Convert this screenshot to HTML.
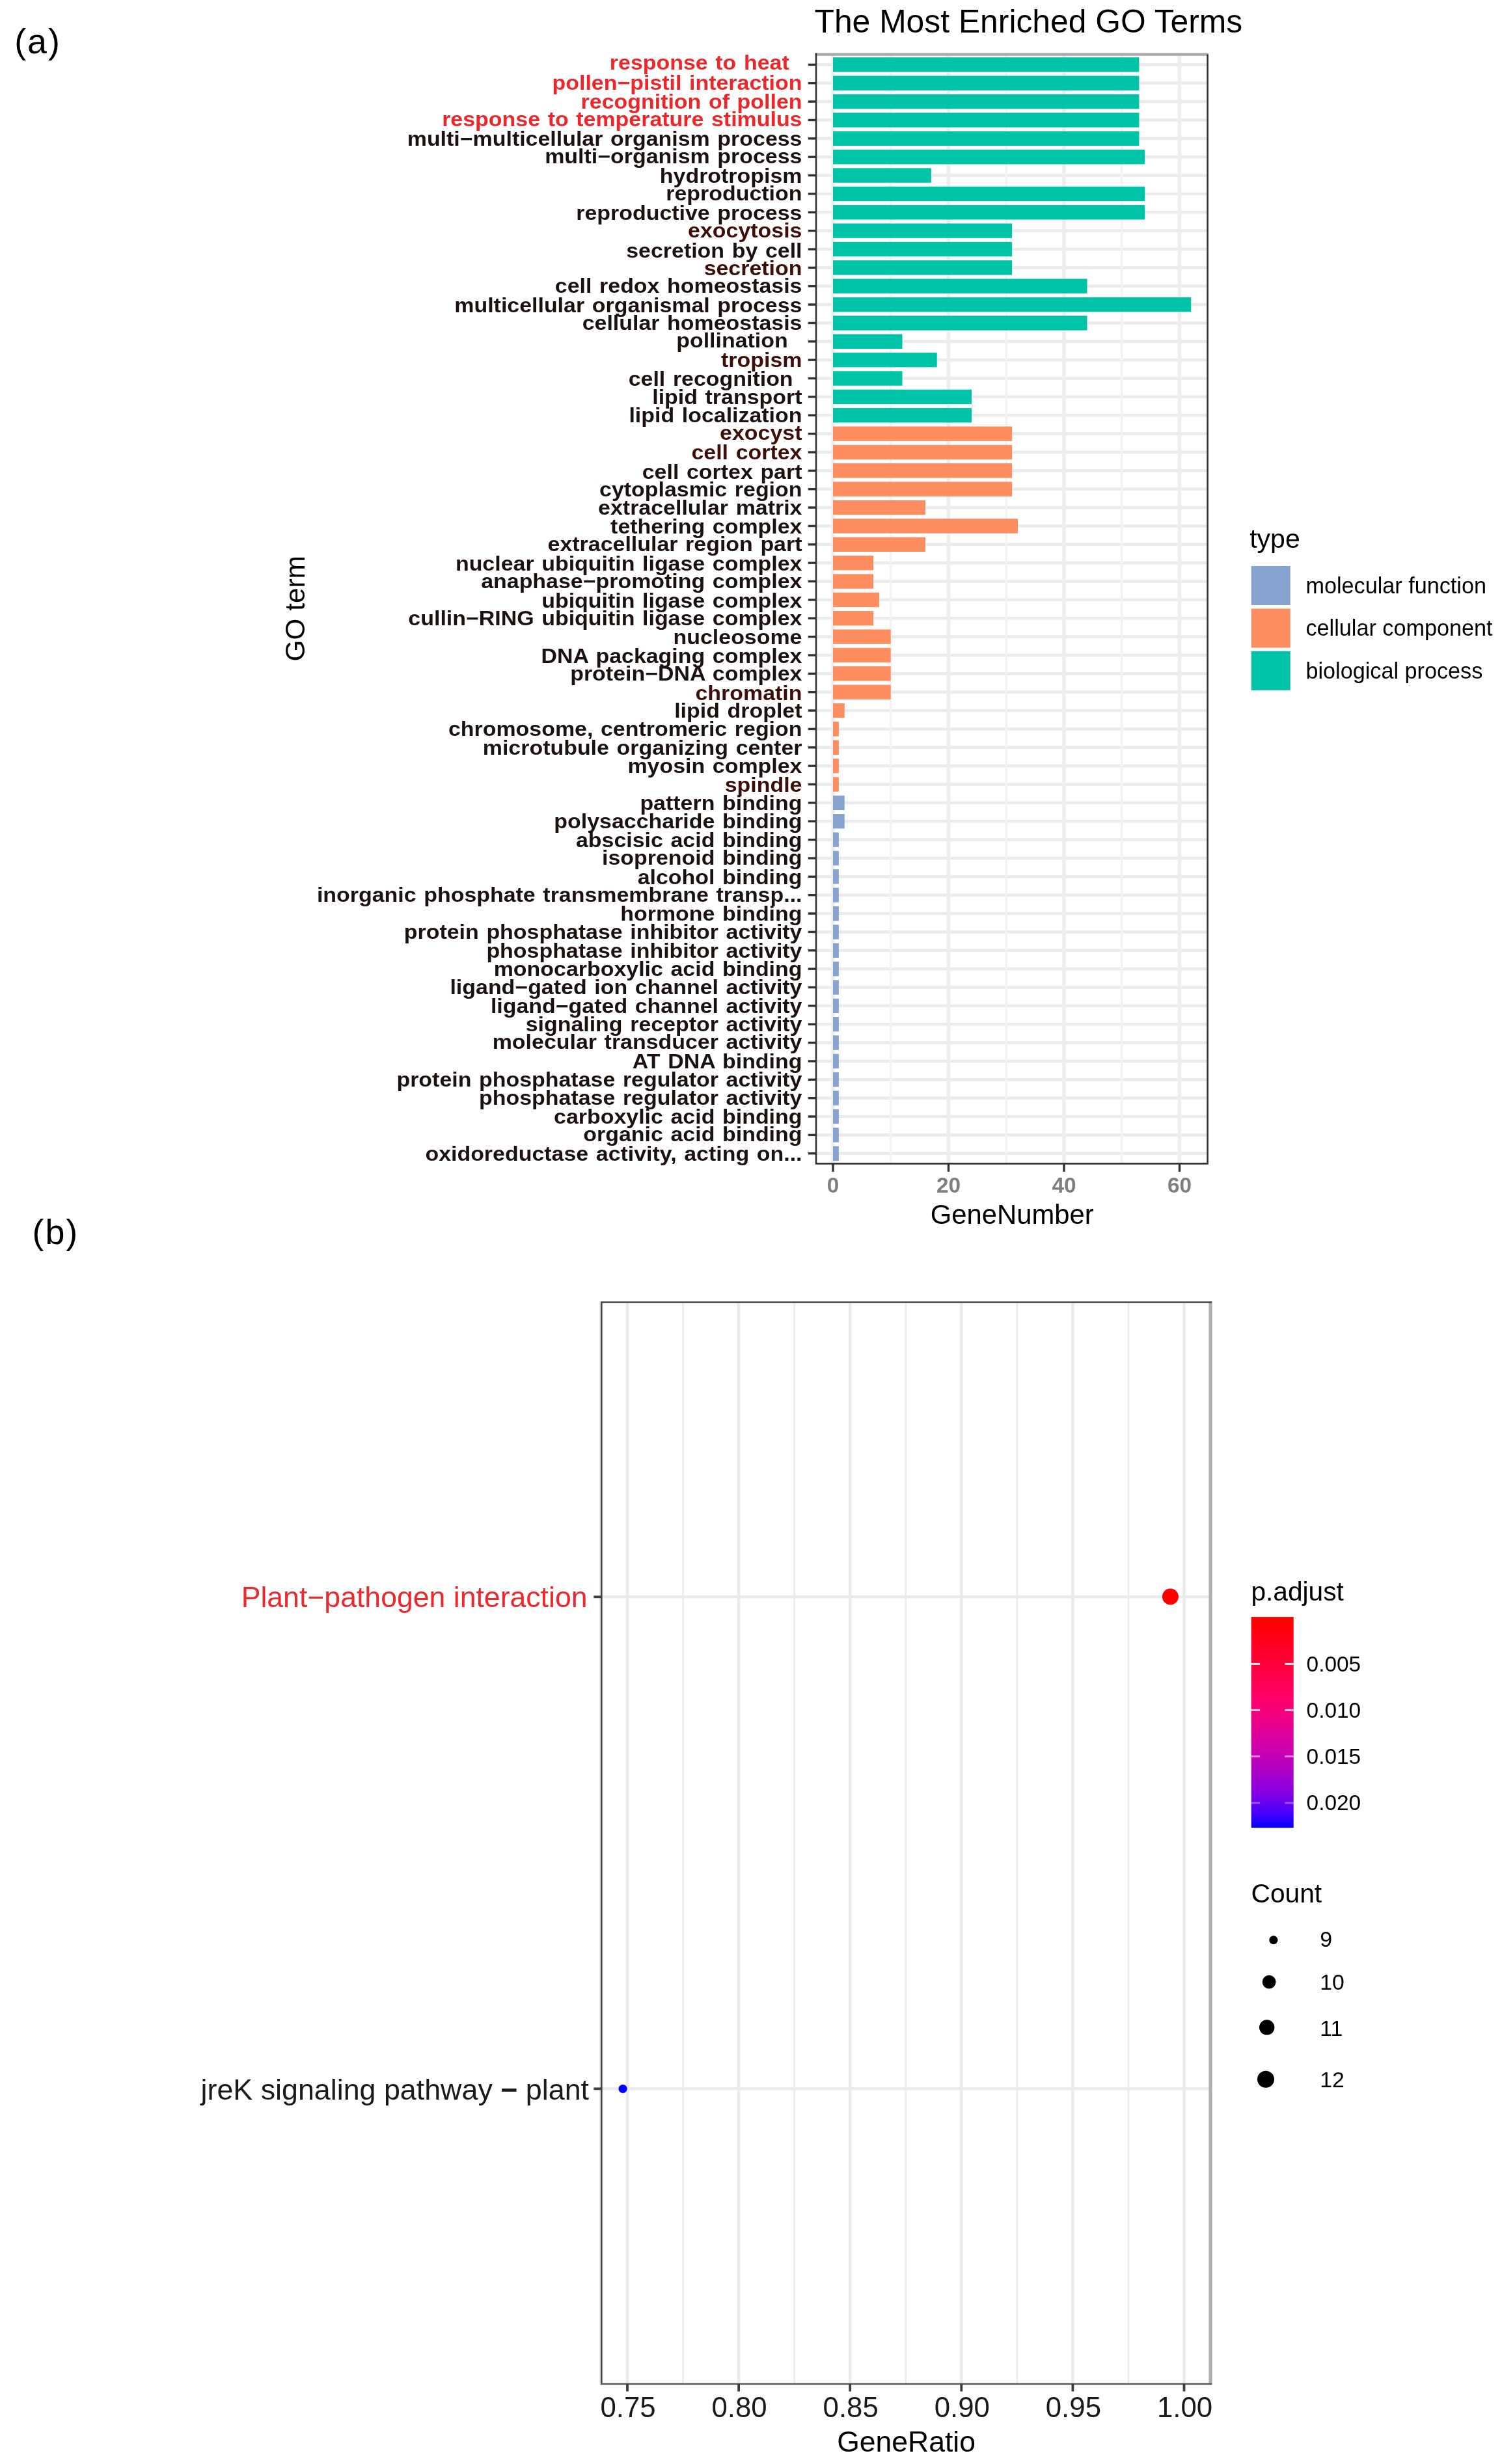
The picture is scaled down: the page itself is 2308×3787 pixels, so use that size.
<!DOCTYPE html>
<html lang="en"><head><meta charset="utf-8"><title>GO enrichment figure</title>
<style>html,body{margin:0;padding:0;background:#fff}svg{display:block;filter:blur(0.7px)}text{white-space:pre}</style></head>
<body>
<svg width="2308" height="3787" viewBox="0 0 2308 3787" font-family='"Liberation Sans", Arial, Helvetica, sans-serif'>
<rect width="2308" height="3787" fill="#ffffff"/>
<g stroke="#ebebeb" fill="none">
<line x1="1254.0" x2="1855.6" y1="99.40" y2="99.40" stroke-width="4.6"/>
<line x1="1254.0" x2="1855.6" y1="127.76" y2="127.76" stroke-width="4.6"/>
<line x1="1254.0" x2="1855.6" y1="156.12" y2="156.12" stroke-width="4.6"/>
<line x1="1254.0" x2="1855.6" y1="184.49" y2="184.49" stroke-width="4.6"/>
<line x1="1254.0" x2="1855.6" y1="212.85" y2="212.85" stroke-width="4.6"/>
<line x1="1254.0" x2="1855.6" y1="241.21" y2="241.21" stroke-width="4.6"/>
<line x1="1254.0" x2="1855.6" y1="269.57" y2="269.57" stroke-width="4.6"/>
<line x1="1254.0" x2="1855.6" y1="297.93" y2="297.93" stroke-width="4.6"/>
<line x1="1254.0" x2="1855.6" y1="326.30" y2="326.30" stroke-width="4.6"/>
<line x1="1254.0" x2="1855.6" y1="354.66" y2="354.66" stroke-width="4.6"/>
<line x1="1254.0" x2="1855.6" y1="383.02" y2="383.02" stroke-width="4.6"/>
<line x1="1254.0" x2="1855.6" y1="411.38" y2="411.38" stroke-width="4.6"/>
<line x1="1254.0" x2="1855.6" y1="439.74" y2="439.74" stroke-width="4.6"/>
<line x1="1254.0" x2="1855.6" y1="468.11" y2="468.11" stroke-width="4.6"/>
<line x1="1254.0" x2="1855.6" y1="496.47" y2="496.47" stroke-width="4.6"/>
<line x1="1254.0" x2="1855.6" y1="524.83" y2="524.83" stroke-width="4.6"/>
<line x1="1254.0" x2="1855.6" y1="553.19" y2="553.19" stroke-width="4.6"/>
<line x1="1254.0" x2="1855.6" y1="581.55" y2="581.55" stroke-width="4.6"/>
<line x1="1254.0" x2="1855.6" y1="609.92" y2="609.92" stroke-width="4.6"/>
<line x1="1254.0" x2="1855.6" y1="638.28" y2="638.28" stroke-width="4.6"/>
<line x1="1254.0" x2="1855.6" y1="666.64" y2="666.64" stroke-width="4.6"/>
<line x1="1254.0" x2="1855.6" y1="695.00" y2="695.00" stroke-width="4.6"/>
<line x1="1254.0" x2="1855.6" y1="723.36" y2="723.36" stroke-width="4.6"/>
<line x1="1254.0" x2="1855.6" y1="751.73" y2="751.73" stroke-width="4.6"/>
<line x1="1254.0" x2="1855.6" y1="780.09" y2="780.09" stroke-width="4.6"/>
<line x1="1254.0" x2="1855.6" y1="808.45" y2="808.45" stroke-width="4.6"/>
<line x1="1254.0" x2="1855.6" y1="836.81" y2="836.81" stroke-width="4.6"/>
<line x1="1254.0" x2="1855.6" y1="865.17" y2="865.17" stroke-width="4.6"/>
<line x1="1254.0" x2="1855.6" y1="893.54" y2="893.54" stroke-width="4.6"/>
<line x1="1254.0" x2="1855.6" y1="921.90" y2="921.90" stroke-width="4.6"/>
<line x1="1254.0" x2="1855.6" y1="950.26" y2="950.26" stroke-width="4.6"/>
<line x1="1254.0" x2="1855.6" y1="978.62" y2="978.62" stroke-width="4.6"/>
<line x1="1254.0" x2="1855.6" y1="1006.98" y2="1006.98" stroke-width="4.6"/>
<line x1="1254.0" x2="1855.6" y1="1035.35" y2="1035.35" stroke-width="4.6"/>
<line x1="1254.0" x2="1855.6" y1="1063.71" y2="1063.71" stroke-width="4.6"/>
<line x1="1254.0" x2="1855.6" y1="1092.07" y2="1092.07" stroke-width="4.6"/>
<line x1="1254.0" x2="1855.6" y1="1120.43" y2="1120.43" stroke-width="4.6"/>
<line x1="1254.0" x2="1855.6" y1="1148.79" y2="1148.79" stroke-width="4.6"/>
<line x1="1254.0" x2="1855.6" y1="1177.16" y2="1177.16" stroke-width="4.6"/>
<line x1="1254.0" x2="1855.6" y1="1205.52" y2="1205.52" stroke-width="4.6"/>
<line x1="1254.0" x2="1855.6" y1="1233.88" y2="1233.88" stroke-width="4.6"/>
<line x1="1254.0" x2="1855.6" y1="1262.24" y2="1262.24" stroke-width="4.6"/>
<line x1="1254.0" x2="1855.6" y1="1290.60" y2="1290.60" stroke-width="4.6"/>
<line x1="1254.0" x2="1855.6" y1="1318.97" y2="1318.97" stroke-width="4.6"/>
<line x1="1254.0" x2="1855.6" y1="1347.33" y2="1347.33" stroke-width="4.6"/>
<line x1="1254.0" x2="1855.6" y1="1375.69" y2="1375.69" stroke-width="4.6"/>
<line x1="1254.0" x2="1855.6" y1="1404.05" y2="1404.05" stroke-width="4.6"/>
<line x1="1254.0" x2="1855.6" y1="1432.41" y2="1432.41" stroke-width="4.6"/>
<line x1="1254.0" x2="1855.6" y1="1460.78" y2="1460.78" stroke-width="4.6"/>
<line x1="1254.0" x2="1855.6" y1="1489.14" y2="1489.14" stroke-width="4.6"/>
<line x1="1254.0" x2="1855.6" y1="1517.50" y2="1517.50" stroke-width="4.6"/>
<line x1="1254.0" x2="1855.6" y1="1545.86" y2="1545.86" stroke-width="4.6"/>
<line x1="1254.0" x2="1855.6" y1="1574.22" y2="1574.22" stroke-width="4.6"/>
<line x1="1254.0" x2="1855.6" y1="1602.59" y2="1602.59" stroke-width="4.6"/>
<line x1="1254.0" x2="1855.6" y1="1630.95" y2="1630.95" stroke-width="4.6"/>
<line x1="1254.0" x2="1855.6" y1="1659.31" y2="1659.31" stroke-width="4.6"/>
<line x1="1254.0" x2="1855.6" y1="1687.67" y2="1687.67" stroke-width="4.6"/>
<line x1="1254.0" x2="1855.6" y1="1716.03" y2="1716.03" stroke-width="4.6"/>
<line x1="1254.0" x2="1855.6" y1="1744.40" y2="1744.40" stroke-width="4.6"/>
<line x1="1254.0" x2="1855.6" y1="1772.76" y2="1772.76" stroke-width="4.6"/>
<line x1="1368.75" x2="1368.75" y1="82.6" y2="1788.4" stroke-width="3.4" stroke="#f3f3f3"/>
<line x1="1546.25" x2="1546.25" y1="82.6" y2="1788.4" stroke-width="3.4" stroke="#f3f3f3"/>
<line x1="1723.75" x2="1723.75" y1="82.6" y2="1788.4" stroke-width="3.4" stroke="#f3f3f3"/>
<line x1="1280.00" x2="1280.00" y1="82.6" y2="1788.4" stroke-width="5.6" stroke="#eeeeee"/>
<line x1="1457.50" x2="1457.50" y1="82.6" y2="1788.4" stroke-width="5.6" stroke="#eeeeee"/>
<line x1="1635.00" x2="1635.00" y1="82.6" y2="1788.4" stroke-width="5.6" stroke="#eeeeee"/>
<line x1="1812.50" x2="1812.50" y1="82.6" y2="1788.4" stroke-width="5.6" stroke="#eeeeee"/>
</g>
<rect x="1280.00" y="88.20" width="470.38" height="22.4" fill="#00c4a7"/>
<rect x="1280.00" y="116.56" width="470.38" height="22.4" fill="#00c4a7"/>
<rect x="1280.00" y="144.92" width="470.38" height="22.4" fill="#00c4a7"/>
<rect x="1280.00" y="173.29" width="470.38" height="22.4" fill="#00c4a7"/>
<rect x="1280.00" y="201.65" width="470.38" height="22.4" fill="#00c4a7"/>
<rect x="1280.00" y="230.01" width="479.25" height="22.4" fill="#00c4a7"/>
<rect x="1280.00" y="258.37" width="150.88" height="22.4" fill="#00c4a7"/>
<rect x="1280.00" y="286.73" width="479.25" height="22.4" fill="#00c4a7"/>
<rect x="1280.00" y="315.10" width="479.25" height="22.4" fill="#00c4a7"/>
<rect x="1280.00" y="343.46" width="275.12" height="22.4" fill="#00c4a7"/>
<rect x="1280.00" y="371.82" width="275.12" height="22.4" fill="#00c4a7"/>
<rect x="1280.00" y="400.18" width="275.12" height="22.4" fill="#00c4a7"/>
<rect x="1280.00" y="428.54" width="390.50" height="22.4" fill="#00c4a7"/>
<rect x="1280.00" y="456.91" width="550.25" height="22.4" fill="#00c4a7"/>
<rect x="1280.00" y="485.27" width="390.50" height="22.4" fill="#00c4a7"/>
<rect x="1280.00" y="513.63" width="106.50" height="22.4" fill="#00c4a7"/>
<rect x="1280.00" y="541.99" width="159.75" height="22.4" fill="#00c4a7"/>
<rect x="1280.00" y="570.35" width="106.50" height="22.4" fill="#00c4a7"/>
<rect x="1280.00" y="598.72" width="213.00" height="22.4" fill="#00c4a7"/>
<rect x="1280.00" y="627.08" width="213.00" height="22.4" fill="#00c4a7"/>
<rect x="1280.00" y="655.44" width="275.12" height="22.4" fill="#fe8d60"/>
<rect x="1280.00" y="683.80" width="275.12" height="22.4" fill="#fe8d60"/>
<rect x="1280.00" y="712.16" width="275.12" height="22.4" fill="#fe8d60"/>
<rect x="1280.00" y="740.53" width="275.12" height="22.4" fill="#fe8d60"/>
<rect x="1280.00" y="768.89" width="142.00" height="22.4" fill="#fe8d60"/>
<rect x="1280.00" y="797.25" width="284.00" height="22.4" fill="#fe8d60"/>
<rect x="1280.00" y="825.61" width="142.00" height="22.4" fill="#fe8d60"/>
<rect x="1280.00" y="853.97" width="62.12" height="22.4" fill="#fe8d60"/>
<rect x="1280.00" y="882.34" width="62.12" height="22.4" fill="#fe8d60"/>
<rect x="1280.00" y="910.70" width="71.00" height="22.4" fill="#fe8d60"/>
<rect x="1280.00" y="939.06" width="62.12" height="22.4" fill="#fe8d60"/>
<rect x="1280.00" y="967.42" width="88.75" height="22.4" fill="#fe8d60"/>
<rect x="1280.00" y="995.78" width="88.75" height="22.4" fill="#fe8d60"/>
<rect x="1280.00" y="1024.15" width="88.75" height="22.4" fill="#fe8d60"/>
<rect x="1280.00" y="1052.51" width="88.75" height="22.4" fill="#fe8d60"/>
<rect x="1280.00" y="1080.87" width="17.75" height="22.4" fill="#fe8d60"/>
<rect x="1280.00" y="1109.23" width="8.88" height="22.4" fill="#fe8d60"/>
<rect x="1280.00" y="1137.59" width="8.88" height="22.4" fill="#fe8d60"/>
<rect x="1280.00" y="1165.96" width="8.88" height="22.4" fill="#fe8d60"/>
<rect x="1280.00" y="1194.32" width="8.88" height="22.4" fill="#fe8d60"/>
<rect x="1280.00" y="1222.68" width="17.75" height="22.4" fill="#87a3d0"/>
<rect x="1280.00" y="1251.04" width="17.75" height="22.4" fill="#87a3d0"/>
<rect x="1280.00" y="1279.40" width="8.88" height="22.4" fill="#87a3d0"/>
<rect x="1280.00" y="1307.77" width="8.88" height="22.4" fill="#87a3d0"/>
<rect x="1280.00" y="1336.13" width="8.88" height="22.4" fill="#87a3d0"/>
<rect x="1280.00" y="1364.49" width="8.88" height="22.4" fill="#87a3d0"/>
<rect x="1280.00" y="1392.85" width="8.88" height="22.4" fill="#87a3d0"/>
<rect x="1280.00" y="1421.21" width="8.88" height="22.4" fill="#87a3d0"/>
<rect x="1280.00" y="1449.58" width="8.88" height="22.4" fill="#87a3d0"/>
<rect x="1280.00" y="1477.94" width="8.88" height="22.4" fill="#87a3d0"/>
<rect x="1280.00" y="1506.30" width="8.88" height="22.4" fill="#87a3d0"/>
<rect x="1280.00" y="1534.66" width="8.88" height="22.4" fill="#87a3d0"/>
<rect x="1280.00" y="1563.02" width="8.88" height="22.4" fill="#87a3d0"/>
<rect x="1280.00" y="1591.39" width="8.88" height="22.4" fill="#87a3d0"/>
<rect x="1280.00" y="1619.75" width="8.88" height="22.4" fill="#87a3d0"/>
<rect x="1280.00" y="1648.11" width="8.88" height="22.4" fill="#87a3d0"/>
<rect x="1280.00" y="1676.47" width="8.88" height="22.4" fill="#87a3d0"/>
<rect x="1280.00" y="1704.83" width="8.88" height="22.4" fill="#87a3d0"/>
<rect x="1280.00" y="1733.20" width="8.88" height="22.4" fill="#87a3d0"/>
<rect x="1280.00" y="1761.56" width="8.88" height="22.4" fill="#87a3d0"/>
<line x1="1252.7" x2="1856.8" y1="83.6" y2="83.6" stroke="#a9a9a9" stroke-width="4.2"/>
<path d="M1254.0 81.6V1788.4H1855.6V83.6" fill="none" stroke="#333333" stroke-width="2.6" stroke-linejoin="miter"/>
<g stroke="#333333" stroke-width="3.4">
<line x1="1241.8" x2="1254.0" y1="99.40" y2="99.40"/>
<line x1="1241.8" x2="1254.0" y1="127.76" y2="127.76"/>
<line x1="1241.8" x2="1254.0" y1="156.12" y2="156.12"/>
<line x1="1241.8" x2="1254.0" y1="184.49" y2="184.49"/>
<line x1="1241.8" x2="1254.0" y1="212.85" y2="212.85"/>
<line x1="1241.8" x2="1254.0" y1="241.21" y2="241.21"/>
<line x1="1241.8" x2="1254.0" y1="269.57" y2="269.57"/>
<line x1="1241.8" x2="1254.0" y1="297.93" y2="297.93"/>
<line x1="1241.8" x2="1254.0" y1="326.30" y2="326.30"/>
<line x1="1241.8" x2="1254.0" y1="354.66" y2="354.66"/>
<line x1="1241.8" x2="1254.0" y1="383.02" y2="383.02"/>
<line x1="1241.8" x2="1254.0" y1="411.38" y2="411.38"/>
<line x1="1241.8" x2="1254.0" y1="439.74" y2="439.74"/>
<line x1="1241.8" x2="1254.0" y1="468.11" y2="468.11"/>
<line x1="1241.8" x2="1254.0" y1="496.47" y2="496.47"/>
<line x1="1241.8" x2="1254.0" y1="524.83" y2="524.83"/>
<line x1="1241.8" x2="1254.0" y1="553.19" y2="553.19"/>
<line x1="1241.8" x2="1254.0" y1="581.55" y2="581.55"/>
<line x1="1241.8" x2="1254.0" y1="609.92" y2="609.92"/>
<line x1="1241.8" x2="1254.0" y1="638.28" y2="638.28"/>
<line x1="1241.8" x2="1254.0" y1="666.64" y2="666.64"/>
<line x1="1241.8" x2="1254.0" y1="695.00" y2="695.00"/>
<line x1="1241.8" x2="1254.0" y1="723.36" y2="723.36"/>
<line x1="1241.8" x2="1254.0" y1="751.73" y2="751.73"/>
<line x1="1241.8" x2="1254.0" y1="780.09" y2="780.09"/>
<line x1="1241.8" x2="1254.0" y1="808.45" y2="808.45"/>
<line x1="1241.8" x2="1254.0" y1="836.81" y2="836.81"/>
<line x1="1241.8" x2="1254.0" y1="865.17" y2="865.17"/>
<line x1="1241.8" x2="1254.0" y1="893.54" y2="893.54"/>
<line x1="1241.8" x2="1254.0" y1="921.90" y2="921.90"/>
<line x1="1241.8" x2="1254.0" y1="950.26" y2="950.26"/>
<line x1="1241.8" x2="1254.0" y1="978.62" y2="978.62"/>
<line x1="1241.8" x2="1254.0" y1="1006.98" y2="1006.98"/>
<line x1="1241.8" x2="1254.0" y1="1035.35" y2="1035.35"/>
<line x1="1241.8" x2="1254.0" y1="1063.71" y2="1063.71"/>
<line x1="1241.8" x2="1254.0" y1="1092.07" y2="1092.07"/>
<line x1="1241.8" x2="1254.0" y1="1120.43" y2="1120.43"/>
<line x1="1241.8" x2="1254.0" y1="1148.79" y2="1148.79"/>
<line x1="1241.8" x2="1254.0" y1="1177.16" y2="1177.16"/>
<line x1="1241.8" x2="1254.0" y1="1205.52" y2="1205.52"/>
<line x1="1241.8" x2="1254.0" y1="1233.88" y2="1233.88"/>
<line x1="1241.8" x2="1254.0" y1="1262.24" y2="1262.24"/>
<line x1="1241.8" x2="1254.0" y1="1290.60" y2="1290.60"/>
<line x1="1241.8" x2="1254.0" y1="1318.97" y2="1318.97"/>
<line x1="1241.8" x2="1254.0" y1="1347.33" y2="1347.33"/>
<line x1="1241.8" x2="1254.0" y1="1375.69" y2="1375.69"/>
<line x1="1241.8" x2="1254.0" y1="1404.05" y2="1404.05"/>
<line x1="1241.8" x2="1254.0" y1="1432.41" y2="1432.41"/>
<line x1="1241.8" x2="1254.0" y1="1460.78" y2="1460.78"/>
<line x1="1241.8" x2="1254.0" y1="1489.14" y2="1489.14"/>
<line x1="1241.8" x2="1254.0" y1="1517.50" y2="1517.50"/>
<line x1="1241.8" x2="1254.0" y1="1545.86" y2="1545.86"/>
<line x1="1241.8" x2="1254.0" y1="1574.22" y2="1574.22"/>
<line x1="1241.8" x2="1254.0" y1="1602.59" y2="1602.59"/>
<line x1="1241.8" x2="1254.0" y1="1630.95" y2="1630.95"/>
<line x1="1241.8" x2="1254.0" y1="1659.31" y2="1659.31"/>
<line x1="1241.8" x2="1254.0" y1="1687.67" y2="1687.67"/>
<line x1="1241.8" x2="1254.0" y1="1716.03" y2="1716.03"/>
<line x1="1241.8" x2="1254.0" y1="1744.40" y2="1744.40"/>
<line x1="1241.8" x2="1254.0" y1="1772.76" y2="1772.76"/>
<line x1="1280.00" x2="1280.00" y1="1788.4" y2="1800.8000000000002"/>
<line x1="1457.50" x2="1457.50" y1="1788.4" y2="1800.8000000000002"/>
<line x1="1635.00" x2="1635.00" y1="1788.4" y2="1800.8000000000002"/>
<line x1="1812.50" x2="1812.50" y1="1788.4" y2="1800.8000000000002"/>
</g>
<g font-size="33.95" font-weight="bold" text-anchor="end" word-spacing="2.2" transform="scale(1 0.915)">
<text x="1212.7" y="117.16" fill="#ed2629">response to heat</text>
<text x="1232.5" y="150.34" fill="#ed2629">pollen−pistil interaction</text>
<text x="1232.5" y="182.43" fill="#ed2629">recognition of pollen</text>
<text x="1232.5" y="212.23" fill="#ed2629">response to temperature stimulus</text>
<text x="1232.5" y="244.97" fill="#1c1112">multi−multicellular organism process</text>
<text x="1232.5" y="274.77" fill="#1c1112">multi−organism process</text>
<text x="1232.5" y="307.40" fill="#1c1112">hydrotropism</text>
<text x="1232.5" y="336.65" fill="#1c1112">reproduction</text>
<text x="1232.5" y="369.94" fill="#1c1112">reproductive process</text>
<text x="1232.5" y="399.08" fill="#3d0f08">exocytosis</text>
<text x="1232.5" y="432.48" fill="#1c1112">secretion by cell</text>
<text x="1232.5" y="462.28" fill="#3d0f08">secretion</text>
<text x="1232.5" y="492.29" fill="#1c1112">cell redox homeostasis</text>
<text x="1232.5" y="524.82" fill="#1c1112">multicellular organismal process</text>
<text x="1232.5" y="554.06" fill="#1c1112">cellular homeostasis</text>
<text x="1210.7" y="584.08" fill="#1c1112">pollination</text>
<text x="1232.5" y="616.60" fill="#3d0f08">tropism</text>
<text x="1218.6" y="648.47" fill="#1c1112">cell recognition</text>
<text x="1232.5" y="679.14" fill="#1c1112">lipid transport</text>
<text x="1232.5" y="709.05" fill="#1c1112">lipid localization</text>
<text x="1232.5" y="738.40" fill="#3d0f08">exocyst</text>
<text x="1232.5" y="771.59" fill="#3d0f08">cell cortex</text>
<text x="1232.5" y="804.11" fill="#1c1112">cell cortex part</text>
<text x="1232.5" y="834.13" fill="#1c1112">cytoplasmic region</text>
<text x="1232.5" y="864.03" fill="#1c1112">extracellular matrix</text>
<text x="1232.5" y="895.90" fill="#1c1112">tethering complex</text>
<text x="1232.5" y="925.91" fill="#1c1112">extracellular region part</text>
<text x="1232.5" y="958.44" fill="#1c1112">nuclear ubiquitin ligase complex</text>
<text x="1232.5" y="988.45" fill="#1c1112">anaphase−promoting complex</text>
<text x="1232.5" y="1020.33" fill="#1c1112">ubiquitin ligase complex</text>
<text x="1232.5" y="1050.23" fill="#1c1112">cullin−RING ubiquitin ligase complex</text>
<text x="1232.5" y="1081.55" fill="#1c1112">nucleosome</text>
<text x="1232.5" y="1113.43" fill="#1c1112">DNA packaging complex</text>
<text x="1232.5" y="1143.44" fill="#1c1112">protein−DNA complex</text>
<text x="1232.5" y="1175.97" fill="#3d0f08">chromatin</text>
<text x="1232.5" y="1205.21" fill="#1c1112">lipid droplet</text>
<text x="1232.5" y="1235.77" fill="#1c1112">chromosome, centromeric region</text>
<text x="1232.5" y="1267.75" fill="#1c1112">microtubule organizing center</text>
<text x="1232.5" y="1298.20" fill="#1c1112">myosin complex</text>
<text x="1232.5" y="1330.29" fill="#3d0f08">spindle</text>
<text x="1232.5" y="1360.74" fill="#1c1112">pattern binding</text>
<text x="1232.5" y="1391.41" fill="#1c1112">polysaccharide binding</text>
<text x="1232.5" y="1422.63" fill="#1c1112">abscisic acid binding</text>
<text x="1232.5" y="1452.53" fill="#1c1112">isoprenoid binding</text>
<text x="1232.5" y="1485.17" fill="#1c1112">alcohol binding</text>
<text x="1232.5" y="1515.07" fill="#1c1112">inorganic phosphate transmembrane transp...</text>
<text x="1232.5" y="1546.94" fill="#1c1112">hormone binding</text>
<text x="1232.5" y="1576.96" fill="#1c1112">protein phosphatase inhibitor activity</text>
<text x="1232.5" y="1608.83" fill="#1c1112">phosphatase inhibitor activity</text>
<text x="1232.5" y="1639.50" fill="#1c1112">monocarboxylic acid binding</text>
<text x="1232.5" y="1670.05" fill="#1c1112">ligand−gated ion channel activity</text>
<text x="1232.5" y="1701.16" fill="#1c1112">ligand−gated channel activity</text>
<text x="1232.5" y="1731.72" fill="#1c1112">signaling receptor activity</text>
<text x="1232.5" y="1762.17" fill="#1c1112">molecular transducer activity</text>
<text x="1232.5" y="1794.70" fill="#1c1112">AT DNA binding</text>
<text x="1232.5" y="1824.71" fill="#1c1112">protein phosphatase regulator activity</text>
<text x="1232.5" y="1855.93" fill="#1c1112">phosphatase regulator activity</text>
<text x="1232.5" y="1887.25" fill="#1c1112">carboxylic acid binding</text>
<text x="1232.5" y="1917.15" fill="#1c1112">organic acid binding</text>
<text x="1232.5" y="1949.68" fill="#1c1112">oxidoreductase activity, acting on...</text>
</g>
<g font-size="33.4" font-weight="bold" text-anchor="middle" fill="#7f7f7f">
<text x="1280.00" y="1833.4">0</text>
<text x="1457.50" y="1833.4">20</text>
<text x="1635.00" y="1833.4">40</text>
<text x="1812.50" y="1833.4">60</text>
</g>
<text x="1555.2" y="1881.2" font-size="41.8" text-anchor="middle" fill="#000">GeneNumber</text>
<text transform="translate(468.2 935.3) rotate(-90)" font-size="42.3" text-anchor="middle" fill="#000">GO term</text>
<text x="1251.5" y="50.3" font-size="49.8" fill="#000">The Most Enriched GO Terms</text>
<text x="22.3" y="82.4" font-size="53.8" letter-spacing="1.9" fill="#000">(a)</text>
<text x="49.6" y="1912.4" font-size="53.8" letter-spacing="1.9" fill="#000">(b)</text>
<text x="1920.2" y="841.5" font-size="41" fill="#000">type</text>
<rect x="1922.7" y="870.00" width="60" height="60" fill="#87a3d0"/>
<text x="2006.5" y="912.00" font-size="34.2" fill="#000">molecular function</text>
<rect x="1922.7" y="935.45" width="60" height="60" fill="#fe8d60"/>
<text x="2006.5" y="977.45" font-size="34.2" fill="#000">cellular component</text>
<rect x="1922.7" y="1000.90" width="60" height="60" fill="#00c4a7"/>
<text x="2006.5" y="1042.90" font-size="34.2" fill="#000">biological process</text>
<g stroke="#ebebeb" fill="none">
<line x1="1049.55" x2="1049.55" y1="2001.5" y2="3664.0" stroke-width="2.5"/>
<line x1="1220.65" x2="1220.65" y1="2001.5" y2="3664.0" stroke-width="2.5"/>
<line x1="1391.75" x2="1391.75" y1="2001.5" y2="3664.0" stroke-width="2.5"/>
<line x1="1562.85" x2="1562.85" y1="2001.5" y2="3664.0" stroke-width="2.5"/>
<line x1="1733.95" x2="1733.95" y1="2001.5" y2="3664.0" stroke-width="2.5"/>
<line x1="964.00" x2="964.00" y1="2001.5" y2="3664.0" stroke-width="4.6"/>
<line x1="1135.10" x2="1135.10" y1="2001.5" y2="3664.0" stroke-width="4.6"/>
<line x1="1306.20" x2="1306.20" y1="2001.5" y2="3664.0" stroke-width="4.6"/>
<line x1="1477.30" x2="1477.30" y1="2001.5" y2="3664.0" stroke-width="4.6"/>
<line x1="1648.40" x2="1648.40" y1="2001.5" y2="3664.0" stroke-width="4.6"/>
<line x1="1819.50" x2="1819.50" y1="2001.5" y2="3664.0" stroke-width="4.6"/>
<line x1="924.3" x2="1859.8" y1="2454.3" y2="2454.3" stroke-width="4.6"/>
<line x1="924.3" x2="1859.8" y1="3210.3" y2="3210.3" stroke-width="4.6"/>
</g>
<circle cx="1798.4" cy="2454.0" r="12.5" fill="#ff0000"/>
<circle cx="957.1" cy="3210.3" r="6.6" fill="#0000ff"/>
<line x1="1860.1" x2="1860.1" y1="2000.2" y2="3665.3" stroke="#afafaf" stroke-width="5.2"/>
<line x1="922.0" x2="922.0" y1="2000.2" y2="3665.3" stroke="#e4e4e4" stroke-width="2.2"/>
<path d="M1862.1 2001.5H924.3V3664.0" fill="none" stroke="#444444" stroke-width="2.6"/>
<line x1="923.0" x2="1862.1" y1="3664.0" y2="3664.0" stroke="#595959" stroke-width="2.6"/>
<g stroke="#3d3d3d" stroke-width="3.8">
<line x1="912.3" x2="924.3" y1="2454.3" y2="2454.3"/>
<line x1="912.3" x2="924.3" y1="3210.3" y2="3210.3"/>
<line x1="964.00" x2="964.00" y1="3664.0" y2="3675.5"/>
<line x1="1135.10" x2="1135.10" y1="3664.0" y2="3675.5"/>
<line x1="1306.20" x2="1306.20" y1="3664.0" y2="3675.5"/>
<line x1="1477.30" x2="1477.30" y1="3664.0" y2="3675.5"/>
<line x1="1648.40" x2="1648.40" y1="3664.0" y2="3675.5"/>
<line x1="1819.50" x2="1819.50" y1="3664.0" y2="3675.5"/>
</g>
<g font-size="43.8" text-anchor="middle" fill="#1a1a1a">
<text x="965.00" y="3714.8">0.75</text>
<text x="1136.10" y="3714.8">0.80</text>
<text x="1307.20" y="3714.8">0.85</text>
<text x="1478.30" y="3714.8">0.90</text>
<text x="1649.40" y="3714.8">0.95</text>
<text x="1820.50" y="3714.8">1.00</text>
</g>
<text x="902.5" y="2470.2" font-size="44.6" text-anchor="end" fill="#ec2a2e">Plant−pathogen interaction</text>
<text x="905" y="3227" font-size="44.8" text-anchor="end" fill="#1a1a1a">jreK signaling pathway <tspan font-weight="bold">−</tspan> plant</text>
<text x="1392.6" y="3768.1" font-size="44.5" text-anchor="middle" fill="#000">GeneRatio</text>
<defs><linearGradient id="pg" x1="0" y1="0" x2="0" y2="1">
<stop offset="0" stop-color="#ff0000"/>
<stop offset="0.04" stop-color="#ff0004"/>
<stop offset="0.12" stop-color="#ff0020"/>
<stop offset="0.25" stop-color="#ff0042"/>
<stop offset="0.37" stop-color="#ff0064"/>
<stop offset="0.45" stop-color="#f5007a"/>
<stop offset="0.55" stop-color="#e00099"/>
<stop offset="0.65" stop-color="#c800b2"/>
<stop offset="0.75" stop-color="#a600cc"/>
<stop offset="0.85" stop-color="#7c00e8"/>
<stop offset="0.93" stop-color="#4800fb"/>
<stop offset="0.975" stop-color="#1c00ff"/>
<stop offset="1" stop-color="#0000ff"/>
</linearGradient></defs>
<text x="1922.4" y="2460" font-size="40.7" fill="#000">p.adjust</text>
<rect x="1922.7" y="2485.1" width="65.0" height="324.0" fill="url(#pg)"/>
<g stroke="#ffffff" stroke-width="3">
<line x1="1922.7" x2="1936.1000000000001" y1="2557.4" y2="2557.4" stroke-opacity="0.92"/>
<line x1="1974.3" x2="1987.7" y1="2557.4" y2="2557.4" stroke-opacity="0.92"/>
<line x1="1922.7" x2="1936.1000000000001" y1="2628.3" y2="2628.3" stroke-opacity="0.8"/>
<line x1="1974.3" x2="1987.7" y1="2628.3" y2="2628.3" stroke-opacity="0.8"/>
<line x1="1922.7" x2="1936.1000000000001" y1="2699.4" y2="2699.4" stroke-opacity="0.5"/>
<line x1="1974.3" x2="1987.7" y1="2699.4" y2="2699.4" stroke-opacity="0.5"/>
<line x1="1922.7" x2="1936.1000000000001" y1="2771.0" y2="2771.0" stroke-opacity="0.33"/>
<line x1="1974.3" x2="1987.7" y1="2771.0" y2="2771.0" stroke-opacity="0.33"/>
</g>
<g font-size="33.4" fill="#000">
<text x="2007.6" y="2569.1">0.005</text>
<text x="2007.6" y="2640.2">0.010</text>
<text x="2007.6" y="2711.2">0.015</text>
<text x="2007.6" y="2782.2">0.020</text>
</g>
<text x="1922.6" y="2924" font-size="40.7" fill="#000">Count</text>
<circle cx="1956.9" cy="2981.7" r="6.6" fill="#000"/>
<text x="2028.3" y="2991.7" font-size="33.8" fill="#000">9</text>
<circle cx="1950.1" cy="3046.1" r="10.4" fill="#000"/>
<text x="2028.3" y="3057.5" font-size="33.8" fill="#000">10</text>
<circle cx="1946.7" cy="3115.9" r="11.7" fill="#000"/>
<text x="2028.3" y="3128.6" font-size="33.8" fill="#000">11</text>
<circle cx="1945.0" cy="3195.7" r="13.0" fill="#000"/>
<text x="2028.3" y="3207.5" font-size="33.8" fill="#000">12</text>
</svg>
</body></html>
